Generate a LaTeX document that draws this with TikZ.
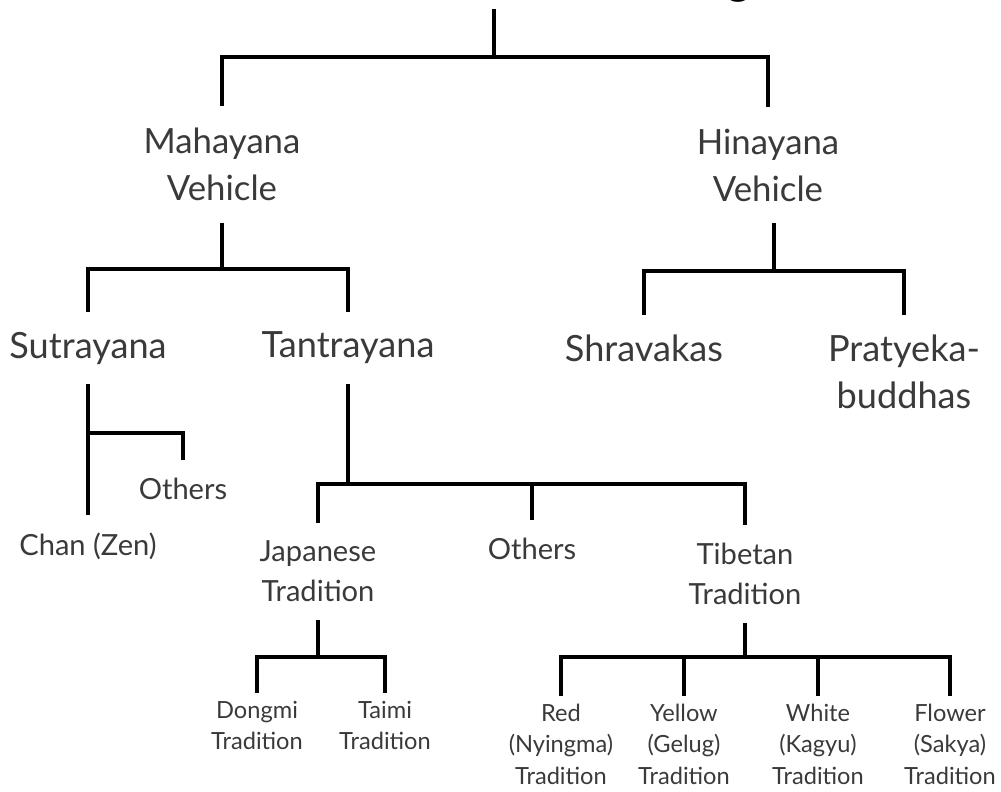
\documentclass[tikz,border=0pt]{standalone}
\usepackage{fontspec}
\setmainfont{Lato}
\usetikzlibrary{positioning,calc}
\definecolor{inkgray}{RGB}{58,58,58}
\tikzset{
  branchln/.style={line width=2.7pt, black, line join=miter},
  lvla/.style={font=\fontsize{24.7}{33.4}\selectfont, text=inkgray, align=center,
    inner sep=0pt, outer ysep=15.6pt, anchor=north},
  lvlb/.style={font=\fontsize{25.7}{33.4}\selectfont, text=inkgray, align=center,
    inner sep=0pt, outer ysep=14.2pt, anchor=north},
  lvlc/.style={font=\fontsize{20.7}{28.5}\selectfont, text=inkgray, align=center,
    inner sep=0pt, outer ysep=12.8pt, anchor=north},
  lvld/.style={font=\fontsize{16.8}{22.4}\selectfont, text=inkgray, align=center,
    inner sep=0pt, outer ysep=5.7pt, anchor=north},
  titletxt/.style={font=\fontsize{31}{36}\selectfont\bfseries, inner sep=0pt, anchor=base},
}

\begin{document}
\begin{tikzpicture}[x=0.025cm, y=-0.025cm]
  \useasboundingbox (0,0) rectangle (1001,791);
  % title, cut off by the top edge
  \begin{scope}
    \clip (0,0) rectangle (1001,791);
    \node[titletxt] (title) at (739,-6) {g};
  \end{scope}

  % Vehicles
  \coordinate (root) at (494,9);
  \coordinate (rootbar) at (494,57);
  \node[lvla] (maha) at (222,106) {Mahayana\\Vehicle};
  \node[lvla] (hina) at (768,107) {Hinayana\\Vehicle};
  \draw[branchln] (root) -- (rootbar);
  \draw[branchln] (maha.north) |- (rootbar) -| (hina.north);

  % Mahayana: Sutrayana and Tantrayana
  \node[lvlb] (sutra) at (88,312) {Sutrayana};
  \node[lvlb] (tantra) at (348,312) {Tantrayana};
  \coordinate (mahabar) at (222,269);
  \draw[branchln] (maha.south) -- (maha.south |- mahabar);
  \draw[branchln] (sutra.north) |- (mahabar) -| (tantra.north);

  % Hinayana: Shravakas and Pratyekabuddhas
  \node[lvlb] (shrav) at (644,315) {Shravakas};
  \node[lvlb] (praty) at (904,315) {Pratyeka-\\buddhas};
  \coordinate (hinabar) at (774,271);
  \draw[branchln] (hinabar |- hina.south) -- (hinabar);
  \draw[branchln] (shrav.north) |- (hinabar) -| (praty.north);

  % Sutrayana
  \node[lvlc] (others1) at (183,460) {Others};
  \node[lvlc] (chan) at (88,515) {Chan (Zen)};
  \coordinate (sutrabar) at (88,433);
  \draw[branchln] (sutra.south) -- (chan.north);
  \draw[branchln] (sutrabar) -| (others1.north);

  % Tantrayana
  \node[lvlc] (japan) at (318,523) {Japanese\\Tradition};
  \node[lvlc] (others2) at (532,520) {Others};
  \node[lvlc] (tibet) at (745,525) {Tibetan\\Tradition};
  \coordinate (tantrabar) at (350,484);
  \draw[branchln] (tantra.south) -- (tantra.south |- tantrabar);
  \draw[branchln] (japan.north) |- (tantrabar) -| (tibet.north);
  \draw[branchln] (others2.north) -- (others2.north |- tantrabar);

  % Japanese Tradition
  \node[lvld] (dongmi) at (257,693) {Dongmi\\Tradition};
  \node[lvld] (taimi) at (385,693) {Taimi\\Tradition};
  \coordinate (japanbar) at (318,657);
  \draw[branchln] (japan.south) -- (japan.south |- japanbar);
  \draw[branchln] (dongmi.north) |- (japanbar) -| (taimi.north);

  % Tibetan Tradition
  \node[lvld] (red) at (561,696) {Red\\(Nyingma)\\Tradition};
  \node[lvld] (yellow) at (684,696) {Yellow\\(Gelug)\\Tradition};
  \node[lvld] (white) at (818,696) {White\\(Kagyu)\\Tradition};
  \node[lvld] (flower) at (950,696) {Flower\\(Sakya)\\Tradition};
  \coordinate (tibetbar) at (745,657);
  \draw[branchln] (tibet.south) -- (tibet.south |- tibetbar);
  \draw[branchln] (red.north) |- (tibetbar) -| (flower.north);
  \draw[branchln] (yellow.north) -- (yellow.north |- tibetbar);
  \draw[branchln] (white.north) -- (white.north |- tibetbar);
\end{tikzpicture}
\end{document}
